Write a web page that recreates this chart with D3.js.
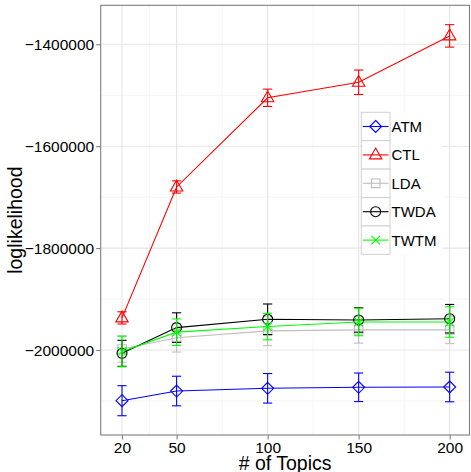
<!DOCTYPE html>
<html>
<head>
<meta charset="utf-8">
<script src="https://cdn.jsdelivr.net/npm/d3@7"></script>
<style>
  body { margin: 0; background: white; }
  text { font-family: "Liberation Sans", Arial, sans-serif; }
</style>
</head>
<body>
<div id="container"></div>
<script>
// data
let topics = [20, 50, 100, 150, 200];
let models = ["ATM", "CTL", "LDA", "TWDA", "TWTM"];
let atm  = [-2099500, -2080500, -2075200, -2073200, -2072600];
let ctl  = [-1937000, -1680000, -1505000, -1474500, -1383500];
let lda  = [-1998000, -1976000, -1962500, -1960500, -1960500];
let twda = [-2006500, -1956000, -1939700, -1941000, -1938600];
let twtm = [-2003000, -1965000, -1954000, -1945000, -1945000];
let atmErr  = [29500, 29000, 29000, 28000, 29000];
let ctlErr  = [12000, 12000, 17000, 24000, 22000];
let ldaErr  = [26000, 28000, 29000, 26000, 27000];
let twdaErr = [25500, 29000, 30000, 24000, 28000];
let twtmErr = [30000, 26000, 26000, 27000, 30000];
let yTicks = [-2000000, -1800000, -1600000, -1400000];
let yMinor = [-2100000, -1900000, -1700000, -1500000];
let xMinor = [35, 75, 125, 175];

let colors = ["#0000ff", "#ff0000", "#bebebe", "#000000", "#00ff00"];
let values = [atm, ctl, lda, twda, twtm];
let errs = [atmErr, ctlErr, ldaErr, twdaErr, twtmErr];

let w = 471, h = 472;
let pLeft = 100.7, pRight = 469.5, pTop = 5.3, pBottom = 435;

let svg = d3.select("#container").append("svg")
    .attr("width", w)
    .attr("height", h)
    .style("background-color", "white");

let x = d3.scaleLinear().domain([8.3, 210.9]).range([pLeft, pRight]);
let y = d3.scaleLinear().domain([-2166830, -1323455]).range([pBottom, pTop]);

// gridlines
let grid = svg.append("g");
grid.selectAll(".yminor").data(yMinor).enter().append("line")
    .attr("x1", pLeft).attr("x2", pRight)
    .attr("y1", d => y(d)).attr("y2", d => y(d))
    .attr("stroke", "#f5f5f5").attr("stroke-width", 1);
grid.selectAll(".xminor").data(xMinor).enter().append("line")
    .attr("y1", pTop).attr("y2", pBottom)
    .attr("x1", d => x(d)).attr("x2", d => x(d))
    .attr("stroke", "#f5f5f5").attr("stroke-width", 1);
grid.selectAll(".ymajor").data(yTicks).enter().append("line")
    .attr("x1", pLeft).attr("x2", pRight)
    .attr("y1", d => y(d)).attr("y2", d => y(d))
    .attr("stroke", "#e5e5e5").attr("stroke-width", 1.1);
grid.selectAll(".xmajor").data(topics).enter().append("line")
    .attr("y1", pTop).attr("y2", pBottom)
    .attr("x1", d => x(d)).attr("x2", d => x(d))
    .attr("stroke", "#e5e5e5").attr("stroke-width", 1.1);

// marker shapes
let shapes = [
  s => "M0,-6L6,0L0,6L-6,0Z",
  s => "M0,-6.8L6.2,4L-6.2,4Z",
  s => "M-4.3,-4.3L4.3,-4.3L4.3,4.3L-4.3,4.3Z",
  s => d3.arc()({innerRadius: 0, outerRadius: 5, startAngle: 0, endAngle: 2 * Math.PI}),
  s => "M-4.3,-4.3L4.3,4.3M-4.3,4.3L4.3,-4.3"
];

let line = d3.line().x(d => x(d[0])).y(d => y(d[1]));

models.forEach(function(m, i){
  let pts = topics.map((t, j) => [t, values[i][j], errs[i][j]]);
  let g = svg.append("g");
  // error bars
  pts.forEach(function(p){
    let ex = x(p[0]);
    g.append("line").attr("x1", ex).attr("x2", ex)
      .attr("y1", y(p[1] - p[2])).attr("y2", y(p[1] + p[2]))
      .attr("stroke", colors[i]).attr("stroke-width", 1.1);
    [p[1] - p[2], p[1] + p[2]].forEach(function(v){
      g.append("line").attr("x1", ex - 4.6).attr("x2", ex + 4.6)
        .attr("y1", y(v)).attr("y2", y(v))
        .attr("stroke", colors[i]).attr("stroke-width", 1.1);
    });
  });
  g.append("path").datum(pts)
    .attr("d", line)
    .attr("fill", "none")
    .attr("stroke", colors[i])
    .attr("stroke-width", 1.1);
  g.selectAll(".pt").data(pts).enter().append("path")
    .attr("d", shapes[i])
    .attr("transform", d => "translate(" + x(d[0]) + "," + y(d[1]) + ")")
    .attr("fill", "none")
    .attr("stroke", colors[i])
    .attr("stroke-width", 1.1);
});

// panel border
svg.append("rect")
  .attr("x", pLeft).attr("y", pTop)
  .attr("width", pRight - pLeft).attr("height", pBottom - pTop)
  .attr("fill", "none").attr("stroke", "#7f7f7f").attr("stroke-width", 1.1);

// axes
let yAxis = svg.append("g")
  .attr("transform", "translate(" + pLeft + ",0)")
  .call(d3.axisLeft(y).tickValues(yTicks).tickFormat(d3.format("d")).tickSize(4.5).tickPadding(2));
let xAxis = svg.append("g")
  .attr("transform", "translate(0," + pBottom + ")")
  .call(d3.axisBottom(x).tickValues(topics).tickSize(4.5).tickPadding(2.5));
[yAxis, xAxis].forEach(function(a){
  a.select(".domain").remove();
  a.selectAll(".tick line").attr("stroke", "#7f7f7f").attr("stroke-width", 1.1);
  a.selectAll("text").attr("font-size", "15.5px").attr("fill", "#000")
    .style("font-family", "'Liberation Sans', Arial, sans-serif");
});
yAxis.selectAll("text").attr("dy", "0.36em");

// axis titles
svg.append("text")
  .attr("x", (pLeft + pRight) / 2).attr("y", 470)
  .attr("text-anchor", "middle")
  .attr("font-size", "19.5px")
  .text("# of Topics");
svg.append("text")
  .attr("transform", "translate(22," + ((pTop + pBottom) / 2) + ") rotate(-90)")
  .attr("text-anchor", "middle")
  .attr("font-size", "19.5px")
  .text("loglikelihood");

// legend
let lgX = 361.3, lgY = 112.3, keyW = 28.7, keyH = 28.4;
let legend = svg.append("g");
legend.append("rect")
  .attr("x", lgX).attr("y", lgY)
  .attr("width", 81).attr("height", keyH * models.length)
  .attr("fill", "white");
models.forEach(function(m, i){
  let ky = lgY + i * keyH;
  legend.append("rect")
    .attr("x", lgX).attr("y", ky)
    .attr("width", keyW).attr("height", keyH)
    .attr("fill", "white").attr("stroke", "#d0d0d0").attr("stroke-width", 1);
  legend.append("line")
    .attr("x1", lgX + 1.5).attr("x2", lgX + keyW - 1.5)
    .attr("y1", ky + keyH / 2).attr("y2", ky + keyH / 2)
    .attr("stroke", colors[i]).attr("stroke-width", 1.1);
  legend.append("path")
    .attr("d", shapes[i]())
    .attr("transform", "translate(" + (lgX + keyW / 2) + "," + (ky + keyH / 2) + ")")
    .attr("fill", "none").attr("stroke", colors[i]).attr("stroke-width", 1.1);
  legend.append("text")
    .attr("x", lgX + keyW + 1.5).attr("y", ky + keyH / 2)
    .attr("dy", "0.36em")
    .attr("font-size", "15px")
    .text(m);
});
</script>
</body>
</html>
